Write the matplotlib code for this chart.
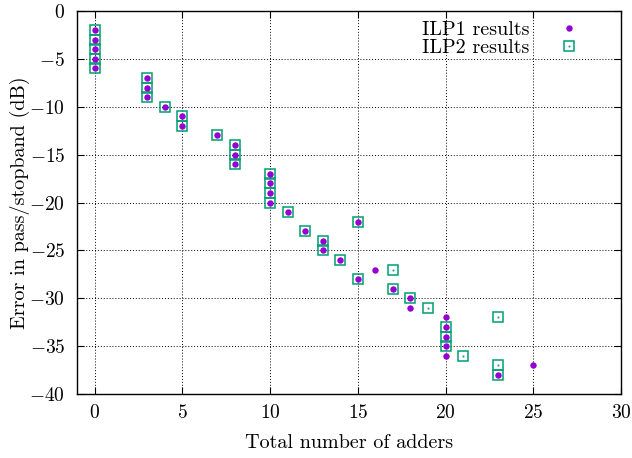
import numpy as np
import matplotlib
matplotlib.use("Agg")
import matplotlib.pyplot as plt
from matplotlib.legend_handler import HandlerTuple

plt.rcParams['font.family'] = ['cmr10', 'DejaVu Serif']
plt.rcParams['mathtext.fontset'] = 'cm'
plt.rcParams['axes.formatter.use_mathtext'] = True

# ILP1 results
ilp1_adders = [0, 0, 0, 0, 0, 3, 3, 3, 4, 5, 5, 7, 8, 8, 8, 10, 10, 10, 10, 11,
               12, 13, 13, 14, 15, 15, 16, 17, 18, 18, 20, 20, 20, 20, 20, 23, 25]
ilp1_error = [-2, -3, -4, -5, -6, -7, -8, -9, -10, -11, -12, -13, -14, -15, -16,
              -17, -18, -19, -20, -21, -23, -24, -25, -26, -22, -28, -27, -29,
              -30, -31, -32, -33, -34, -35, -36, -38, -37]

# ILP2 results
ilp2_adders = [0, 0, 0, 0, 0, 3, 3, 3, 4, 5, 5, 7, 8, 8, 8, 10, 10, 10, 10, 11,
               12, 13, 13, 14, 15, 15, 17, 17, 18, 19, 20, 20, 20, 21, 23, 23, 23]
ilp2_error = [-2, -3, -4, -5, -6, -7, -8, -9, -10, -11, -12, -13, -14, -15, -16,
              -17, -18, -19, -20, -21, -23, -24, -25, -26, -22, -28, -27, -29,
              -30, -31, -33, -34, -35, -36, -32, -37, -38]

fs = 14.5
fig = plt.figure(figsize=(6.32, 4.58), dpi=100)
ax = fig.add_axes([77 / 632, 64 / 458, 544 / 632, 383 / 458])

purple = '#9400d3'
green = '#009e73'

p1, = ax.plot(ilp1_adders, ilp1_error, 'o', color=purple, ms=4.6, mew=0,
              zorder=4)
sq, = ax.plot(ilp2_adders, ilp2_error, 's', mfc='none', mec=green, ms=7.5,
              mew=1.1, zorder=3)
dt, = ax.plot(ilp2_adders, ilp2_error, 's', color=green, ms=1.3, mew=0,
              zorder=3)

ax.set_xlim(-1, 30)
ax.set_ylim(-40, 0)
ax.set_xticks(np.arange(0, 31, 5))
ax.set_yticks(np.arange(-40, 1, 5))
ax.grid(True, color='black', linestyle=(0, (1, 2)), linewidth=0.7)
ax.tick_params(direction='in', top=True, right=True, length=5, labelsize=14)
ax.tick_params(axis='y', pad=8.5)
ax.tick_params(axis='x', pad=7.5)
for s in ax.spines.values():
    s.set_linewidth(1.0)

ax.set_xlabel('Total number of adders', fontsize=fs)
ax.set_ylabel('Error in pass/stopband (dB)', fontsize=fs)
ax.xaxis.set_label_coords(0.5, -0.104)
ax.yaxis.set_label_coords(-0.087, 0.5)

leg = ax.legend([p1, (sq, dt)], ['ILP1 results', 'ILP2 results'],
                handler_map={tuple: HandlerTuple(ndivide=1)},
                loc='upper left', bbox_to_anchor=(0.634, 0.974),
                frameon=False, markerfirst=False, fontsize=fs,
                handlelength=1.0, handletextpad=1.45, labelspacing=0.0,
                borderpad=0, borderaxespad=0)

fig.savefig('out.png', dpi=100)
